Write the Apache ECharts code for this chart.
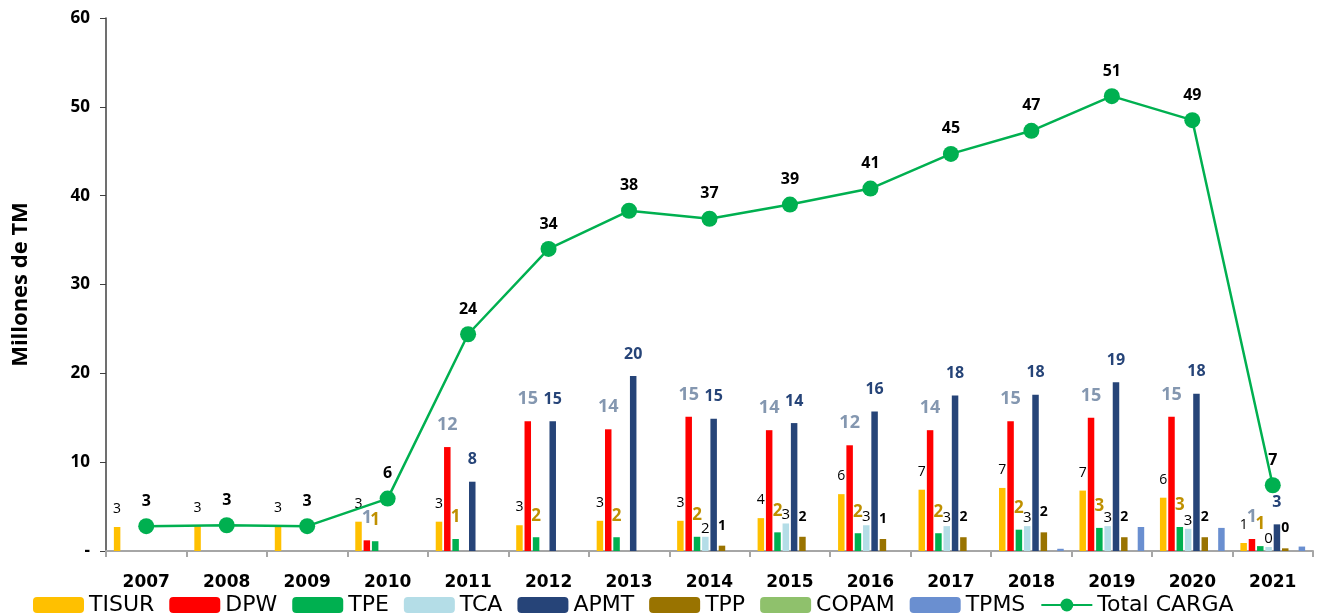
<!DOCTYPE html>
<html>
<head>
<meta charset="utf-8">
<script src="https://cdn.jsdelivr.net/npm/echarts@6/dist/echarts.min.js"></script>
<style>
  html, body { margin: 0; padding: 0; background: #fff; }
  #chart { width: 1321px; height: 615px; }
</style>
</head>
<body>
<div id="chart"></div>
<script>
// años
var years = ['2007', '2008', '2009', '2010', '2011', '2012', '2013', '2014', '2015', '2016', '2017', '2018', '2019', '2020', '2021'];

// carga por terminal (millones de TM)
var tisur = [2.7, 2.8, 2.8, 3.3, 3.3, 2.9, 3.4, 3.4, 3.7, 6.4, 6.9, 7.1, 6.8, 6.0, 0.9];
var dpw   = [null, null, null, 1.2, 11.7, 14.6, 13.7, 15.1, 13.6, 11.9, 13.6, 14.6, 15.0, 15.1, 1.35];
var tpe   = [null, null, null, 1.1, 1.35, 1.55, 1.55, 1.6, 2.1, 2.0, 2.0, 2.4, 2.6, 2.7, 0.55];
var tca   = [null, null, null, null, null, null, null, 1.6, 3.1, 2.9, 2.8, 2.8, 2.8, 2.5, 0.45];
var apmt  = [null, null, null, null, 7.8, 14.6, 19.7, 14.9, 14.4, 15.7, 17.5, 17.6, 19.0, 17.7, 3.0];
var tpp   = [null, null, null, null, null, null, null, 0.6, 1.6, 1.35, 1.55, 2.1, 1.55, 1.55, 0.3];
var copam = [null, null, null, null, null, null, null, null, null, null, null, null, null, null, null];
var tpms  = [null, null, null, null, null, null, null, null, null, null, null, 0.25, 2.7, 2.6, 0.5];
var total = [2.8, 2.9, 2.8, 5.9, 24.4, 34.0, 38.3, 37.4, 39.0, 40.8, 44.7, 47.3, 51.2, 48.5, 7.4];

var fontFam = '"Open Sans", "DejaVu Sans", sans-serif';
var fontAncha = '"DejaVu Sans", sans-serif';

function redondeo(p) {
    return Math.round(p.value);
}

// etiqueta para cada serie de barras
function etiqueta(color, size, dist, weight) {
    return {
        show: true,
        position: 'top',
        distance: dist,
        color: color,
        fontSize: size,
        fontWeight: weight,
        fontFamily: fontFam,
        formatter: redondeo
    };
}

function barra(name, data, color, label) {
    var s = {
        name: name,
        type: 'bar',
        data: data,
        barWidth: 6.5,
        barGap: '28%',
        itemStyle: { color: color },
        label: label || { show: false }
    };
    return s;
}

var myChart = echarts.init(document.getElementById('chart'));

option = {
    animation: false,
    textStyle: { fontFamily: fontFam },
    grid: {
        left: 106,
        right: 8,
        top: 18,
        bottom: 64
    },
    legend: {
        left: 28,
        top: 589,
        itemWidth: 51,
        itemHeight: 16,
        itemGap: 15,
        textStyle: {
            fontSize: 22,
            color: '#000',
            fontFamily: fontAncha
        },
        data: ['TISUR', 'DPW', 'TPE', 'TCA', 'APMT', 'TPP', 'COPAM', 'TPMS', 'Total CARGA']
    },
    xAxis: {
        type: 'category',
        data: years,
        axisLine: { lineStyle: { color: '#a6a6a6', width: 2 } },
        axisTick: { show: true, length: 6, lineStyle: { color: '#a6a6a6', width: 2 } },
        axisLabel: {
            color: '#000',
            fontWeight: 'bold',
            fontSize: 17,
            fontFamily: fontAncha,
            margin: 23
        }
    },
    yAxis: {
        type: 'value',
        min: 0,
        max: 60,
        interval: 10,
        name: 'Millones de TM',
        nameLocation: 'middle',
        nameGap: 74,
        nameTextStyle: {
            color: '#000',
            fontWeight: 'bold',
            fontSize: 22
        },
        axisLine: { show: true, lineStyle: { color: '#404040', width: 1.5 } },
        axisTick: { show: true, length: 6, lineStyle: { color: '#404040' } },
        splitLine: { show: false },
        axisLabel: {
            color: '#000',
            fontWeight: 'bold',
            fontSize: 17,
            margin: 16,
            formatter: function (v) { return v === 0 ? '-' : v; }
        }
    },
    series: [
        barra('TISUR', tisur, '#ffc000', etiqueta('#000', 14, 11, 'normal')),
        barra('DPW', dpw, '#ff0000', etiqueta('#8497b0', 18, 13, 'bold')),
        barra('TPE', tpe, '#00b050', etiqueta('#bf9000', 17, 13, 'bold')),
        barra('TCA', tca, '#b4dde7', etiqueta('#000', 15, 1, 'normal')),
        barra('APMT', apmt, '#264478', etiqueta('#264478', 16, 14, 'bold')),
        barra('TPP', tpp, '#997300', etiqueta('#000', 14, 13, 'bold')),
        barra('COPAM', copam, '#8fc16c'),
        barra('TPMS', tpms, '#6a8fd0'),
        {
            name: 'Total CARGA',
            type: 'line',
            data: total,
            symbol: 'circle',
            symbolSize: 16,
            itemStyle: { color: '#00b050' },
            lineStyle: { color: '#00b050', width: 2.5 },
            label: {
                show: true,
                position: 'top',
                distance: 9,
                color: '#000',
                fontWeight: 'bold',
                fontSize: 16,
                formatter: redondeo
            }
        }
    ]
};

myChart.setOption(option);
</script>
</body>
</html>
